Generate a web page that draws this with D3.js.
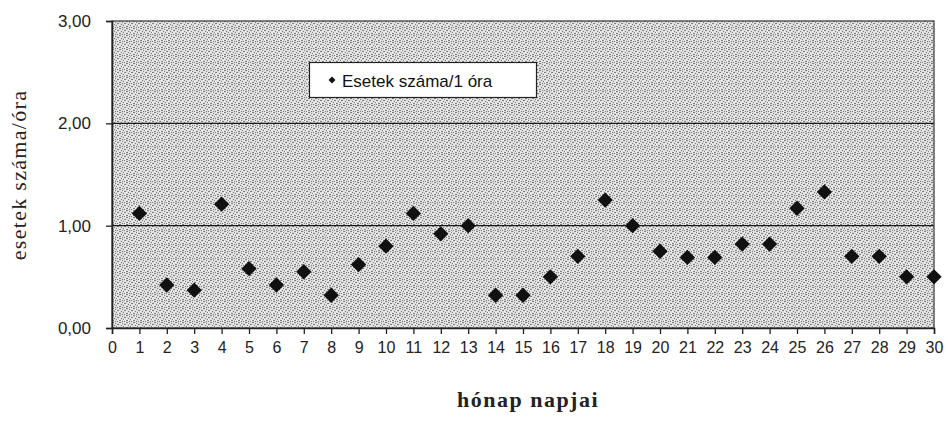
<!DOCTYPE html>
<html>
<head>
<meta charset="utf-8">
<script src="https://cdn.jsdelivr.net/npm/d3@7"></script>
<style>
  html, body { margin: 0; padding: 0; background: #fff; }
  svg { display: block; }
</style>
</head>
<body>
<svg id="chart" width="948" height="422"></svg>
<script>
// Days of the month and cases per hour
const days = d3.range(1, 31);
const casesPerHour = [
  1.12, 0.42, 0.37, 1.21, 0.58, 0.42, 0.55, 0.32, 0.62, 0.80,
  1.12, 0.92, 1.00, 0.32, 0.32, 0.50, 0.70, 1.25, 1.00, 0.75,
  0.69, 0.69, 0.82, 0.82, 1.17, 1.33, 0.70, 0.70, 0.50, 0.50
];
const xTicks = d3.range(0, 31);
const yTicks = [0, 1, 2, 3];
const seriesName = "Esetek száma/1 óra";
const xTitle = "hónap napjai";
const yTitle = "esetek száma/óra";

const svg = d3.select("#chart");
const plot = { left: 112, right: 934, top: 21, bottom: 328 };

const x = d3.scaleLinear().domain([0, 30]).range([plot.left, plot.right]);
const y = d3.scaleLinear().domain([0, 3]).range([plot.bottom, plot.top]);

// Speckled halftone fill for the plot area
const defs = svg.append("defs");
const tile = 7;
const pat = defs.append("pattern")
  .attr("id", "speckle").attr("patternUnits", "userSpaceOnUse")
  .attr("width", tile).attr("height", tile);
pat.append("rect").attr("width", tile).attr("height", tile).attr("fill", "#dcdcdc");
const darkDots = [[0,0],[1,0],[3,1],[5,2],[6,2],[2,3],[4,4],[0,5],[1,5],[5,6],[3,6]];
const lightDots = [[2,1],[6,0],[0,3],[4,2],[6,5],[2,5],[5,4]];
pat.selectAll("rect.d").data(darkDots).join("rect").attr("class", "d")
  .attr("x", d => d[0]).attr("y", d => d[1]).attr("width", 1).attr("height", 1)
  .attr("fill", "#7d7d7d");
pat.selectAll("rect.l").data(lightDots).join("rect").attr("class", "l")
  .attr("x", d => d[0]).attr("y", d => d[1]).attr("width", 1).attr("height", 1)
  .attr("fill", "#f6f6f6");

svg.append("rect")
  .attr("x", plot.left).attr("y", plot.top)
  .attr("width", plot.right - plot.left).attr("height", plot.bottom - plot.top)
  .attr("fill", "url(#speckle)");

// Horizontal gridlines
svg.append("g").selectAll("line")
  .data(yTicks.filter(d => d > 0 && d < 3))
  .join("line")
  .attr("x1", plot.left).attr("x2", plot.right)
  .attr("y1", d => y(d)).attr("y2", d => y(d))
  .attr("stroke", "#1a1a1a").attr("stroke-width", 1.2);

// Plot frame
svg.append("rect")
  .attr("x", plot.left).attr("y", plot.top)
  .attr("width", plot.right - plot.left).attr("height", plot.bottom - plot.top)
  .attr("fill", "none").attr("stroke", "#444").attr("stroke-width", 1.3);

// Axes
const fmt = d => d3.format(".2f")(d).replace(".", ",");
const yAxis = svg.append("g")
  .attr("transform", `translate(${plot.left},0)`)
  .call(d3.axisLeft(y).tickValues(yTicks).tickFormat(fmt).tickSize(6).tickPadding(15));
const xAxis = svg.append("g")
  .attr("transform", `translate(0,${plot.bottom})`)
  .call(d3.axisBottom(x).tickValues(xTicks).tickFormat(d3.format("d")).tickSize(6).tickPadding(8));

[yAxis, xAxis].forEach(a => {
  a.select(".domain").attr("stroke", "#222").attr("stroke-width", 1.5);
  a.selectAll(".tick line").attr("stroke", "#222").attr("stroke-width", 1.3);
  a.selectAll(".tick text")
    .attr("fill", "#222")
    .attr("font-family", "'Liberation Sans', Arial, sans-serif");
});
yAxis.selectAll(".tick text").attr("font-size", 17);
xAxis.selectAll(".tick text").attr("font-size", 16);

// Data markers
const diamond = d3.symbol().type(d3.symbolDiamond2).size(150);
svg.append("g").selectAll("path")
  .data(days.map((d, i) => ({ day: d, v: casesPerHour[i] })))
  .join("path")
  .attr("d", diamond)
  .attr("transform", d => `translate(${x(d.day)},${y(d.v)})`)
  .attr("fill", "#111");

// Legend
const lg = svg.append("g");
lg.append("rect")
  .attr("x", 309.5).attr("y", 62.5).attr("width", 227).attr("height", 35)
  .attr("fill", "#fff").attr("stroke", "#222").attr("stroke-width", 1.2);
lg.append("path")
  .attr("d", d3.symbol().type(d3.symbolDiamond2).size(30))
  .attr("transform", "translate(332,80)")
  .attr("fill", "#111");
lg.append("text")
  .attr("x", 342).attr("y", 87)
  .attr("font-family", "'Liberation Sans', Arial, sans-serif")
  .attr("font-size", 17).attr("fill", "#111")
  .text(seriesName);

// Axis titles
svg.append("text")
  .attr("x", 528).attr("y", 407)
  .attr("text-anchor", "middle")
  .attr("font-family", "'Liberation Serif', 'Times New Roman', serif")
  .attr("font-weight", "bold")
  .attr("font-size", 22).attr("fill", "#222")
  .attr("letter-spacing", 1.5)
  .text(xTitle);

svg.append("text")
  .attr("transform", "translate(26,175) rotate(-90)")
  .attr("text-anchor", "middle")
  .attr("font-family", "'Liberation Serif', 'Times New Roman', serif")
  .attr("font-size", 22).attr("fill", "#222")
  .attr("letter-spacing", 1.3)
  .text(yTitle);
</script>
</body>
</html>
